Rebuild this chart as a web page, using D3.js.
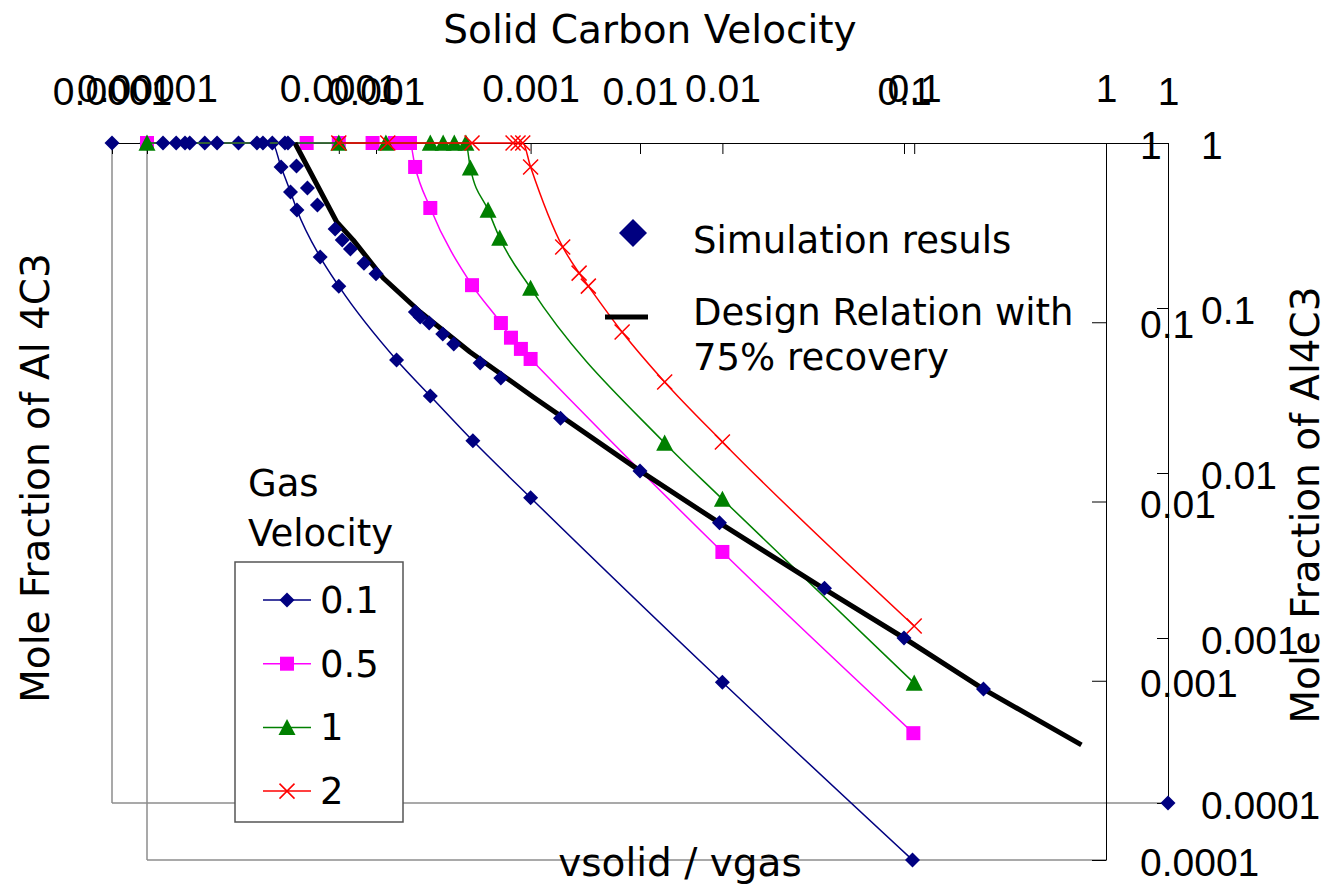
<!DOCTYPE html>
<html lang="en">
<head>
<meta charset="UTF-8">
<script src="https://cdn.jsdelivr.net/npm/d3@7"></script>
<title>Mole Fraction of Al4C3</title>
<style>
    body { margin: 0; background: white; }
    svg { display: block; font-family: "DejaVu Sans", sans-serif; }
    .axis text { font-size: 39px; fill: black; }
    .axis path, .axis line { stroke: black; stroke-width: 1px; }
</style>
</head>
<body>
<script>
// tick values for the two overlaid charts
const xTicksA = [1e-4, 1e-3, 1e-2, 1e-1, 1];
const xTicksB = [1e-5, 1e-4, 1e-3, 1e-2, 1e-1, 1];
const yTicks = [1, 0.1, 0.01, 0.001, 0.0001];
const xLabelsA = ["0.0001", "0.001", "0.01", "0.1", "1"];
const xLabelsB = ["0.00001", "0.0001", "0.001", "0.01", "0.1", "1"];
const yLabels = ["1", "0.1", "0.01", "0.001", "0.0001"];

// gas velocity series: [vsolid/vgas, mole fraction]
const gas01 = [[1e-5,1],[2.0e-5,1],[3.0e-5,1],[4.5e-5,1],[5.0e-5,0.735],[5.6e-5,0.533],[6.05e-5,0.423],
    [8.0e-5,0.231],[1e-4,0.159],[2.0e-4,0.0616],[3.0e-4,0.0388],[5.0e-4,0.0218],[1e-3,0.0105],[0.01,0.00098],[0.098,0.0001]];
const gas05 = [[1e-5,1],[6.8e-5,1],[1e-4,1],[1.5e-4,1],[1.96e-4,1],[2.2e-4,1],[2.35e-4,1],[2.5e-4,0.735],
    [3.0e-4,0.434],[4.95e-4,0.161],[7.0e-4,0.099],[7.9e-4,0.082],[8.9e-4,0.071],[1e-3,0.0624],[0.01,0.00523],[0.099,0.00051]];
const gas1 = [[1e-5,1],[1e-4,1],[1.76e-4,1],[3.0e-4,1],[3.5e-4,1],[4.0e-4,1],[4.6e-4,1],[4.85e-4,0.726],
    [6.0e-4,0.423],[6.9e-4,0.295],[1e-3,0.155],[5e-3,0.0212],[0.01,0.0103],[0.1,0.00097]];
const gas2 = [[1e-4,1],[1.8e-4,1],[4.95e-4,1],[8.1e-4,1],[8.6e-4,1],[9.1e-4,1],[1e-3,0.735],[1.47e-3,0.263],
    [1.79e-3,0.188],[2.0e-3,0.159],[3.0e-3,0.0882],[5e-3,0.0464],[0.01,0.0215],[0.1,0.00202]];

// simulation results and design relation: [solid carbon velocity, mole fraction]
const simResults = [[1e-4,1],[1.56e-4,1],[1.75e-4,1],[1.89e-4,1],[1.97e-4,1],[2.5e-4,1],[3.54e-4,1],[3.73e-4,1],
    [4.52e-4,1],[4.64e-4,1],[5.0e-4,0.726],[5.5e-4,0.534],[6.0e-4,0.421],[7.0e-4,0.301],[7.45e-4,0.258],
    [8.0e-4,0.228],[9.0e-4,0.187],[1e-3,0.161],[1.41e-3,0.0946],[1.47e-3,0.0882],[1.59e-3,0.0811],
    [1.79e-3,0.0696],[1.97e-3,0.0605],[2.48e-3,0.0464],[2.97e-3,0.0377],[5e-3,0.0215],[0.01,0.0103],
    [0.02,0.005],[0.05,0.002],[0.1,0.001],[0.2,0.00049],[1,0.0001]];
const designRelation = [[4.93e-4,1],[7.1e-4,0.332],[8.2e-4,0.258],[1.065e-3,0.152],[1.47e-3,0.0946],
    [2.27e-3,0.0541],[3.94e-3,0.0289],[0.01,0.0103],[0.02,0.00498],[0.05,0.00198],[0.1,0.001],
    [0.2,0.00049],[0.47,0.000225]];

const seriesNames = ["0.1", "0.5", "1", "2"];
const seriesData = [gas01, gas05, gas1, gas2];
const seriesColors = ["#000080", "#ff00ff", "#008000", "#ff0000"];
const seriesShapes = ["diamond", "square", "triangle", "x"];

const width = 1333, height = 886;
const svg = d3.select("body").append("svg")
    .attr("width", width)
    .attr("height", height);

// chart A (simulation / design relation), chart B (gas velocity series)
const xA = d3.scaleLog().domain([1e-4, 1]).range([112, 1168]);
const yA = d3.scaleLog().domain([1e-4, 1]).range([803, 143]);
const xB = d3.scaleLog().domain([1e-5, 1]).range([147, 1106]);
const yB = d3.scaleLog().domain([1e-4, 1]).range([860, 143]);

//gray frame edges
const frame = svg.append("g").attr("stroke", "#8c8c8c").attr("stroke-width", 1.5);
frame.append("line").attr("x1", xA(1e-4)).attr("x2", xA(1e-4)).attr("y1", yA(1)).attr("y2", yA(1e-4));
frame.append("line").attr("x1", xA(1e-4)).attr("x2", xA(1)).attr("y1", yA(1e-4)).attr("y2", yA(1e-4));
frame.append("line").attr("x1", xB(1e-5)).attr("x2", xB(1e-5)).attr("y1", yB(1)).attr("y2", yB(1e-4));
frame.append("line").attr("x1", xB(1e-5)).attr("x2", xB(1)).attr("y1", yB(1e-4)).attr("y2", yB(1e-4));

//axes
svg.append("g").attr("class", "axis")
    .attr("transform", "translate(0," + yA(1) + ")")
    .call(d3.axisTop(xA).tickValues(xTicksA).tickFormat((d, i) => xLabelsA[i])
        .tickSizeInner(-11).tickSizeOuter(0).tickPadding(38));
svg.append("g").attr("class", "axis")
    .attr("transform", "translate(0," + yB(1) + ")")
    .call(d3.axisTop(xB).tickValues(xTicksB).tickFormat((d, i) => xLabelsB[i])
        .tickSizeInner(-11).tickSizeOuter(0).tickPadding(41));
svg.append("g").attr("class", "axis")
    .attr("transform", "translate(" + xA(1) + ",0)")
    .call(d3.axisRight(yA).tickValues(yTicks).tickFormat((d, i) => yLabels[i])
        .tickSizeInner(-11).tickSizeOuter(0).tickPadding(33))
    .selectAll("text").attr("dy", "0.4em");
svg.append("g").attr("class", "axis")
    .attr("transform", "translate(" + xB(1) + ",0)")
    .call(d3.axisRight(yB).tickValues(yTicks).tickFormat((d, i) => yLabels[i])
        .tickSizeInner(-14).tickSizeOuter(0).tickPadding(34))
    .selectAll("text").attr("dy", "0.4em");
svg.selectAll(".axis .domain").attr("fill", "none");

//axis titles
svg.append("text").attr("x", 650).attr("y", 43).attr("text-anchor", "middle")
    .attr("font-size", 39).text("Solid Carbon Velocity");
svg.append("text").attr("transform", "translate(49,478) rotate(-90)").attr("text-anchor", "middle")
    .attr("font-size", 39).text("Mole Fraction of Al 4C3");
svg.append("text").attr("transform", "translate(1319,505) rotate(-90)").attr("text-anchor", "middle")
    .attr("font-size", 39).text("Mole Fraction of Al4C3");
svg.append("text").attr("x", 680).attr("y", 876).attr("text-anchor", "middle")
    .attr("font-size", 39).text("vsolid / vgas");

//marker drawing
function marker(g, shape, color, cx, cy, s) {
    if (shape == "diamond") {
        g.append("path").attr("d", `M${cx},${cy - s}L${cx + s},${cy}L${cx},${cy + s}L${cx - s},${cy}Z`)
            .attr("fill", color);
    } else if (shape == "square") {
        g.append("rect").attr("x", cx - s).attr("y", cy - s).attr("width", 2 * s).attr("height", 2 * s)
            .attr("fill", color);
    } else if (shape == "triangle") {
        g.append("path").attr("d", `M${cx},${cy - s}L${cx + s},${cy + s * 0.9}L${cx - s},${cy + s * 0.9}Z`)
            .attr("fill", color);
    } else {
        g.append("path").attr("d", `M${cx - s},${cy - s}L${cx + s},${cy + s}M${cx - s},${cy + s}L${cx + s},${cy - s}`)
            .attr("stroke", color).attr("stroke-width", 1.5).attr("fill", "none");
    }
}
const markerSize = {diamond: 7.5, square: 7, triangle: 8.5, x: 7.5};

//gas velocity series
const lineB = d3.line().x(d => xB(d[0])).y(d => yB(d[1])).curve(d3.curveMonotoneX);
seriesData.forEach((data, i) => {
    const g = svg.append("g");
    g.append("path").datum(data).attr("d", lineB)
        .attr("fill", "none").attr("stroke", seriesColors[i]).attr("stroke-width", 1.5);
    data.forEach(d => marker(g, seriesShapes[i], seriesColors[i], xB(d[0]), yB(d[1]), markerSize[seriesShapes[i]]));
});

//design relation and simulation results
const lineA = d3.line().x(d => xA(d[0])).y(d => yA(d[1]));
svg.append("path").datum(designRelation).attr("d", lineA)
    .attr("fill", "none").attr("stroke", "black").attr("stroke-width", 5).attr("stroke-linejoin", "round");
const sim = svg.append("g");
simResults.forEach(d => marker(sim, "diamond", "#000080", xA(d[0]), yA(d[1]), 7.5));

//legend: simulation / design
marker(svg, "diamond", "#000080", 633, 233, 14);
svg.append("text").attr("x", 693).attr("y", 253).attr("font-size", 37).text("Simulation resuls");
svg.append("line").attr("x1", 605).attr("x2", 648).attr("y1", 317).attr("y2", 317)
    .attr("stroke", "black").attr("stroke-width", 5);
svg.append("text").attr("x", 693).attr("y", 325).attr("font-size", 37).text("Design Relation with");
svg.append("text").attr("x", 693).attr("y", 370).attr("font-size", 37).text("75% recovery");

//legend: gas velocity
svg.append("text").attr("x", 248).attr("y", 496).attr("font-size", 37).text("Gas");
svg.append("text").attr("x", 248).attr("y", 546).attr("font-size", 37).text("Velocity");
svg.append("rect").attr("x", 235).attr("y", 562).attr("width", 168).attr("height", 260)
    .attr("fill", "white").attr("stroke", "#555").attr("stroke-width", 1.5);
seriesNames.forEach((name, i) => {
    const cy = 600 + i * 63.7;
    const g = svg.append("g");
    g.append("line").attr("x1", 263).attr("x2", 311).attr("y1", cy).attr("y2", cy)
        .attr("stroke", seriesColors[i]).attr("stroke-width", 1.5);
    marker(g, seriesShapes[i], seriesColors[i], 287, cy, markerSize[seriesShapes[i]]);
    g.append("text").attr("x", 320).attr("y", cy + 13).attr("font-size", 37).text(name);
});
</script>
</body>
</html>
